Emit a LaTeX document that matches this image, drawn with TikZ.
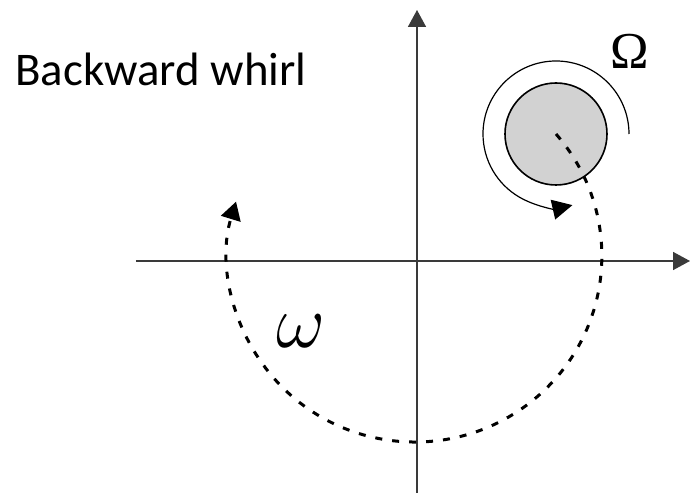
\documentclass[tikz,border=0pt]{standalone}
\usepackage{fix-cm}
\usepackage{fontspec}
\setsansfont{Carlito}
\newfontfamily\greekfont{Liberation Serif}
\usetikzlibrary{arrows.meta,positioning}
\definecolor{axisgray}{HTML}{3A3A3A}
\definecolor{rotorfill}{HTML}{D2D2D2}

\begin{document}
\begin{tikzpicture}[x=1bp, y=1bp,
  axis/.style={draw=axisgray, line width=1.6bp, -{Triangle[length=17bp, width=18bp]}},
  spin/.style={line width=1.2bp, -{Triangle[length=20bp, width=20bp]}},
  orbit/.style={line width=3bp, dash pattern=on 7bp off 10bp, -{Triangle[length=18bp, width=20bp]}},
  rotorbox/.style={circle, draw, line width=1.6bp, fill=rotorfill, minimum size=102bp, inner sep=0pt}
]
  \useasboundingbox (-417,-232) rectangle (273,261);

  % Axes
  \coordinate (xl) at (-281,0);
  \coordinate (xr) at (273,0);
  \coordinate (yb) at (0,-232);
  \coordinate (yt) at (0,251);
  \draw[axis] (xl) -- (xr);
  \draw[axis] (yb) -- (yt);

  % Rotor and its spin
  \node[rotorbox] (rotor) at (139,127) {};
  \draw[spin] ([xshift=73bp]rotor.center) arc[start angle=0, end angle=283, radius=73];

  % Orbit of the rotor centre
  \draw[orbit] (rotor.center) arc[start angle=41, end angle=-197, x radius=187, y radius=186];

  % Labels
  \node (spd) at (213,210) {\greekfont\fontsize{52}{52}\selectfont Ω};
  \node (whirl) at (-116,-70) {\fontsize{76}{76}\selectfont$\omega$};
  \node[anchor=base west, font=\sffamily\fontsize{47}{50}\selectfont] (title) at (-405,175) {Backward whirl};
\end{tikzpicture}
\end{document}
